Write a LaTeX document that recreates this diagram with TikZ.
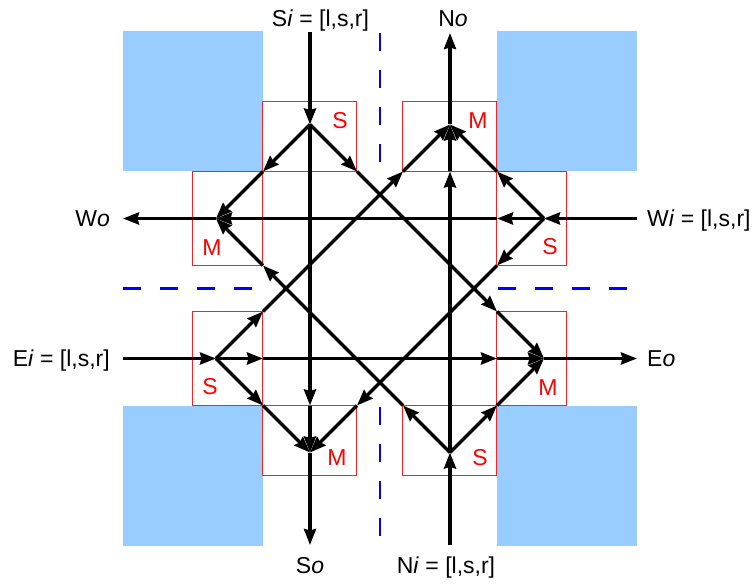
\documentclass[tikz,border=0pt]{standalone}
\usepackage{fontspec}
\setmainfont{Liberation Sans}
\usetikzlibrary{arrows.meta}
\definecolor{blockblue}{RGB}{153,204,255}
\definecolor{cellred}{RGB}{255,30,30}
\begin{document}
\begin{tikzpicture}[x=1pt,y=1pt,
  flow/.style={line width=3.3pt,-{Stealth[length=16pt,width=12pt,inset=1.5pt]}},
  block/.style={fill=blockblue,draw=none},
  cell/.style={draw=cellred,line width=1pt},
  lane/.style={draw=blue,line width=2.5pt,dash pattern=on 18pt off 19pt},
  lbl/.style={font=\fontsize{23}{27}\selectfont,inner sep=0pt},
  cl/.style={font=\fontsize{23}{27}\selectfont,text=red,inner sep=0pt}]
\useasboundingbox (-380,-295.5) rectangle (373,288.5);
% blocks
\fill[block] (-257,117) rectangle (-117,257);
\fill[block] (117,117) rectangle (257,257);
\fill[block] (-257,-257) rectangle (-117,-117);
\fill[block] (117,-257) rectangle (257,-117);
% red cells
\draw[cell] (-117,117) rectangle (-23,187);
\draw[cell] (23,117) rectangle (117,187);
\draw[cell] (-187,23) rectangle (-117,117);
\draw[cell] (-187,-117) rectangle (-117,-23);
\draw[cell] (117,23) rectangle (187,117);
\draw[cell] (117,-117) rectangle (187,-23);
\draw[cell] (-117,-187) rectangle (-23,-117);
\draw[cell] (23,-187) rectangle (117,-117);
% cell labels
\node[cl] (lTS) at (-40,167.5) {S};
\node[cl] (lTM) at (98,167.5) {M};
\node[cl] (lLM) at (-168,40.5) {M};
\node[cl] (lRS) at (170,41.5) {S};
\node[cl] (lLS) at (-170,-98.5) {S};
\node[cl] (lRM) at (168,-99.5) {M};
\node[cl] (lBM) at (-43,-169.5) {M};
\node[cl] (lBS) at (100,-169.5) {S};
% dashed lane dividers
\draw[lane] (0,255.5) -- (0,126.5);
\draw[lane] (0,-118.5) -- (0,-247.5);
\draw[lane] (-257,0) -- (-128,0);
\draw[lane] (118,0) -- (247,0);
% coordinates
\coordinate (TS) at (-70,164);
\coordinate (TM) at (70,164);
\coordinate (LM) at (-164,70);
\coordinate (RS) at (164,70);
\coordinate (LS) at (-164,-70);
\coordinate (RM) at (164,-70);
\coordinate (BM) at (-70,-164);
\coordinate (BS) at (70,-164);
\coordinate (c1) at (-117,117);
\coordinate (c2) at (117,117);
\coordinate (c3) at (-117,-117);
\coordinate (c4) at (117,-117);
\coordinate (t1) at (-23,117);
\coordinate (t2) at (23,117);
\coordinate (tn) at (70,117);
\coordinate (b1) at (-23,-117);
\coordinate (b2) at (23,-117);
\coordinate (bs) at (-70,-117);
\coordinate (l1) at (-117,23);
\coordinate (l2) at (-117,-23);
\coordinate (le) at (-117,-70);
\coordinate (r1) at (117,23);
\coordinate (r2) at (117,-23);
\coordinate (rw) at (117,70);
\coordinate (re) at (117,-70);
\coordinate (SiS) at (-70,256.5);
\coordinate (SoE) at (-70,-256.5);
\coordinate (NiS) at (70,-256.5);
\coordinate (NoE) at (70,255.5);
\coordinate (WiS) at (257,70);
\coordinate (WoE) at (-257,70);
\coordinate (EiS) at (-257,-70);
\coordinate (EoE) at (257,-70);
% southbound
\draw[flow] (SiS) -- (TS);
\draw[flow] (TS) -- (c1);
\draw[flow] (c1) -- (LM);
\draw[flow] (TS) -- (t1);
\draw[flow] (t1) -- (r2);
\draw[flow] (r2) -- (RM);
\draw[flow] (TS) -- (bs);
\draw[flow] (bs) -- (BM);
\draw[flow] (BM) -- (SoE);
% westbound
\draw[flow] (WiS) -- (RS);
\draw[flow] (RS) -- (c2);
\draw[flow] (c2) -- (TM);
\draw[flow] (RS) -- (rw);
\draw[flow] (rw) -- (LM);
\draw[flow] (RS) -- (r1);
\draw[flow] (r1) -- (b1);
\draw[flow] (b1) -- (BM);
\draw[flow] (LM) -- (WoE);
% eastbound
\draw[flow] (EiS) -- (LS);
\draw[flow] (LS) -- (l2);
\draw[flow] (l2) -- (t2);
\draw[flow] (t2) -- (TM);
\draw[flow] (LS) -- (le);
\draw[flow] (le) -- (re);
\draw[flow] (re) -- (RM);
\draw[flow] (LS) -- (c3);
\draw[flow] (c3) -- (BM);
\draw[flow] (RM) -- (EoE);
% northbound
\draw[flow] (NiS) -- (BS);
\draw[flow] (BS) -- (b2);
\draw[flow] (b2) -- (l1);
\draw[flow] (l1) -- (LM);
\draw[flow] (BS) -- (tn);
\draw[flow] (tn) -- (TM);
\draw[flow] (BS) -- (c4);
\draw[flow] (c4) -- (RM);
\draw[flow] (TM) -- (NoE);
% terminal labels
\node[lbl,anchor=base] (Si) at (-59.5,261.5) {S\textit{i} = [l,s,r]};
\node[lbl,anchor=base] (No) at (73,261.5) {N\textit{o}};
\node[lbl,anchor=base west] (Wi) at (267,62) {W\textit{i} = [l,s,r]};
\node[lbl,anchor=base east] (Wo) at (-270,62) {W\textit{o}};
\node[lbl,anchor=base west] (Eo) at (267,-78) {E\textit{o}};
\node[lbl,anchor=base east] (Ei) at (-270,-78) {E\textit{i} = [l,s,r]};
\node[lbl,anchor=base] (So) at (-70,-284.5) {S\textit{o}};
\node[lbl,anchor=base] (Ni) at (66,-284.5) {N\textit{i} = [l,s,r]};
\end{tikzpicture}
\end{document}
